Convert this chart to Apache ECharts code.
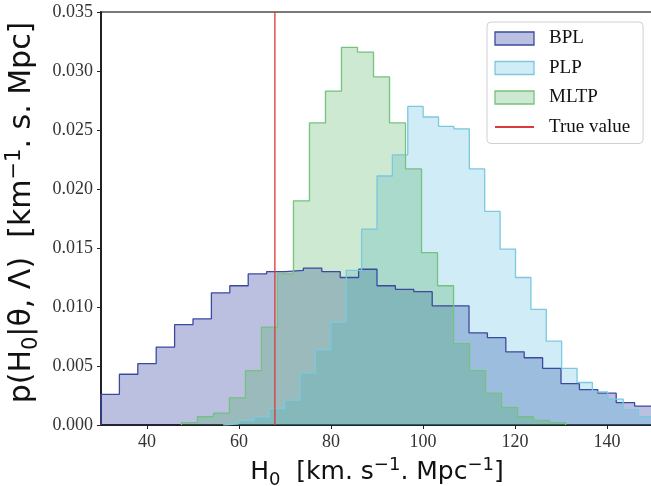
<!DOCTYPE html>
<html>
<head>
<meta charset="utf-8">
<script src="https://cdn.jsdelivr.net/npm/echarts@6/dist/echarts.min.js"></script>
<style>
  html, body { margin: 0; padding: 0; background: #fff; }
  #main { width: 651px; height: 486px; }
</style>
</head>
<body>
<div id="main"></div>
<script>
// histogram bins: first left edge, bin width, bin heights
var bplStart = 30, bplWidth = 4;
var bplHeights = [0.0026, 0.0043, 0.0052, 0.0066, 0.0085, 0.0090, 0.0112, 0.0118, 0.0128, 0.0130,
                  0.0131, 0.0133, 0.0130, 0.0125, 0.0132, 0.0118, 0.0115, 0.0113, 0.0101, 0.0101,
                  0.0078, 0.0074, 0.0062, 0.0057, 0.0048, 0.0035, 0.0030, 0.0027, 0.0019, 0.0016];

var plpStart = 56.55, plpWidth = 3.345;
var plpHeights = [0.0001, 0.0004, 0.0007, 0.0014, 0.0021, 0.0044, 0.0064, 0.0087, 0.0131, 0.0166,
                  0.0211, 0.0229, 0.0270, 0.0261, 0.0253, 0.0251, 0.0217, 0.0181, 0.0149, 0.0125,
                  0.0098, 0.0071, 0.0048, 0.0036, 0.0028, 0.0022, 0.0013, 0.0007];

var mltpStart = 47.48, mltpWidth = 3.48;
var mltpHeights = [0.0002, 0.0007, 0.0010, 0.0023, 0.0046, 0.0083, 0.0128, 0.0190, 0.0256, 0.0283,
                   0.0320, 0.0316, 0.0295, 0.0256, 0.0217, 0.0146, 0.0118, 0.0069, 0.0046, 0.0027,
                   0.0015, 0.0007, 0.0004, 0.0002];

var trueValue = 67.8;
var xTicks = [40, 60, 80, 100, 120, 140];
var seriesNames = ['BPL', 'PLP', 'MLTP', 'True value'];

function stepData(start, width, heights) {
    var pts = [[start, 0]];
    heights.forEach(function (h, i) {
        pts.push([start + i * width, h]);
    });
    var end = start + heights.length * width;
    pts.push([end, heights[heights.length - 1]]);
    pts.push([end, 0]);
    return pts;
}

var myChart = echarts.init(document.getElementById('main'));

var serif = 'Liberation Serif';
var sans = 'DejaVu Sans';

function histSeries(name, data, line, fill) {
    return {
        name: name,
        type: 'line',
        step: 'end',
        data: data,
        symbol: 'none',
        showSymbol: false,
        color: line,
        lineStyle: { color: line, width: 1.3 },
        areaStyle: { color: fill, opacity: 1, origin: 'start' },
        z: 2
    };
}

// sub/superscript styles for the axis names
function mathRich(size) {
    var small = Math.round(size * 0.7);
    return {
        n: { fontFamily: sans, fontSize: size, lineHeight: size + 8, color: '#111' },
        sub: { fontFamily: sans, fontSize: small, lineHeight: small + 1, verticalAlign: 'bottom', color: '#111' },
        sup: { fontFamily: sans, fontSize: small, lineHeight: small + 1, verticalAlign: 'top', color: '#111' }
    };
}

option = {
    animation: false,
    grid: {
        left: 101,
        right: -2,
        top: 12,
        bottom: 61,
        outerBoundsMode: 'none',
        show: true,
        borderColor: '#7a7a7a',
        borderWidth: 2,
        backgroundColor: 'transparent'
    },
    legend: {
        orient: 'vertical',
        left: 487,
        top: 22,
        padding: [7, 13, 7, 7],
        itemGap: 10.5,
        itemWidth: 39,
        itemHeight: 13,
        backgroundColor: '#fff',
        borderColor: '#d0d0d0',
        borderWidth: 1,
        borderRadius: 4,
        textStyle: {
            fontFamily: serif,
            fontSize: 19,
            color: '#111',
            lineHeight: 18,
            padding: [0, 0, 0, 10]
        },
        data: [
            { name: seriesNames[0], icon: 'rect', itemStyle: { color: 'rgba(31,47,153,0.3)', borderColor: '#3c4a9e', borderWidth: 1.3 } },
            { name: seriesNames[1], icon: 'rect', itemStyle: { color: 'rgba(69,181,218,0.25)', borderColor: '#7cc8de', borderWidth: 1.3 } },
            { name: seriesNames[2], icon: 'rect', itemStyle: { color: 'rgba(61,168,76,0.25)', borderColor: '#74c27f', borderWidth: 1.3 } },
            { name: seriesNames[3], itemStyle: { opacity: 0 } }
        ]
    },
    xAxis: {
        type: 'value',
        min: 30,
        max: 150,
        name: '{n|H}{sub|0}{n|  [km. s}{sup|\u22121}{n|. Mpc}{sup|\u22121}{n|]}',
        nameLocation: 'middle',
        nameGap: 26,
        nameTextStyle: { rich: mathRich(25) },
        axisLine: { onZero: false, lineStyle: { color: '#222', width: 2 } },
        axisTick: { show: true, length: 4, lineStyle: { color: '#222' }, customValues: xTicks },
        axisLabel: { fontFamily: serif, fontSize: 18, color: '#333', margin: 8, customValues: xTicks },
        splitLine: { show: false }
    },
    yAxis: {
        type: 'value',
        min: 0,
        max: 0.035,
        interval: 0.005,
        name: '{n|p(H}{sub|0}{n||\u03B8, \u039B)  [km}{sup|\u22121}{n|. s. Mpc]}',
        nameLocation: 'middle',
        nameGap: 53,
        nameTextStyle: { rich: mathRich(30), padding: [0, 0, 0, 12] },
        axisLine: { show: true, lineStyle: { color: '#222', width: 2 } },
        axisTick: { show: true, length: 4, lineStyle: { color: '#222' } },
        axisLabel: {
            fontFamily: serif, fontSize: 18, color: '#333', margin: 8,
            formatter: function (v) { return v.toFixed(3); }
        },
        splitLine: { show: false }
    },
    series: [
        histSeries(seriesNames[0], stepData(bplStart, bplWidth, bplHeights), '#3c4a9e', 'rgba(31,47,153,0.3)'),
        histSeries(seriesNames[1], stepData(plpStart, plpWidth, plpHeights), '#7cc8de', 'rgba(69,181,218,0.25)'),
        histSeries(seriesNames[2], stepData(mltpStart, mltpWidth, mltpHeights), '#74c27f', 'rgba(61,168,76,0.25)'),
        {
            name: seriesNames[3],
            type: 'line',
            data: [[trueValue, 0], [trueValue, 0.035]],
            symbol: 'none',
            color: '#d93a3a',
            lineStyle: { color: '#d93a3a', width: 1.3 },
            z: 5
        }
    ]
};
myChart.setOption(option);
</script>
</body>
</html>
